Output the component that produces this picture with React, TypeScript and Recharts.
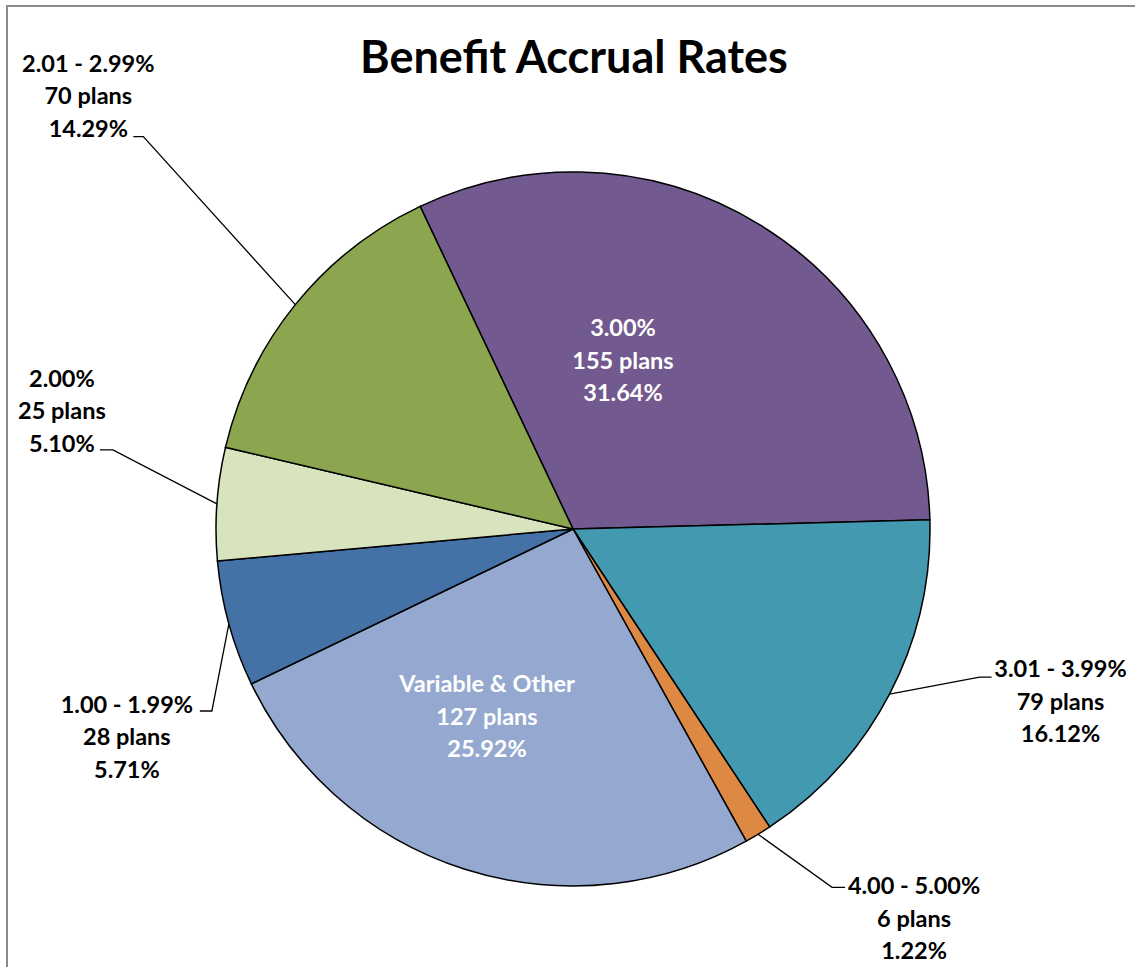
import React from "react";
import { PieChart, Pie, Cell } from "recharts";

const categories = ["3.00%", "3.01 - 3.99%", "4.00 - 5.00%", "Variable & Other", "1.00 - 1.99%", "2.00%", "2.01 - 2.99%"];
const planCounts = [155, 79, 6, 127, 28, 25, 70];
const percentLabels = ["31.64%", "16.12%", "1.22%", "25.92%", "5.71%", "5.10%", "14.29%"];
const sliceColors = ["#72598F", "#4399B0", "#DD8843", "#95A9D0", "#4472A6", "#D8E4BD", "#8BA64F"];

const chartTitle = "Benefit Accrual Rates";

const data = categories.map((name, i) => ({ name, value: planCounts[i] }));

type Layout = { inside: boolean; tx: number; ty: number; ex: number; ey: number; hx: number; color: string };
const labelLayouts: Layout[] = [
  { inside: true, tx: 50, ty: -202, ex: 0, ey: 0, hx: 0, color: "#ffffff" },
  { inside: false, tx: 171, ty: -26, ex: 90, ey: -17, hx: 102, color: "#000000" },
  { inside: false, tx: 156, ty: 51, ex: 74, ey: 53, hx: 87, color: "#000000" },
  { inside: true, tx: -86, ty: 154, ex: 0, ey: 0, hx: 0, color: "#ffffff" },
  { inside: false, tx: -102, ty: 80, ex: -17, ey: 87, hx: -29, color: "#000000" },
  { inside: false, tx: -155, ty: -126, ex: -104, ey: -54, hx: -117, color: "#000000" },
  { inside: false, tx: -207, ty: -242, ex: -152, ey: -168, hx: -162, color: "#000000" },
];

const RAD = Math.PI / 180;
const LINE = 32.5;
const FONT = "Lato, 'Open Sans', sans-serif";

function renderLabel(props: any) {
  const { cx, cy, midAngle, outerRadius, index } = props;
  const L = labelLayouts[index];
  const ax = cx + outerRadius * Math.cos(-midAngle * RAD);
  const ay = cy + outerRadius * Math.sin(-midAngle * RAD);
  const bx = L.inside ? cx : ax;
  const by = L.inside ? cy : ay;
  const lines = [categories[index], `${planCounts[index]} plans`, percentLabels[index]];
  return (
    <g key={`lbl-${index}`}>
      {!L.inside && (
        <polyline
          points={`${ax},${ay} ${ax + L.ex},${ay + L.ey} ${ax + L.hx},${ay + L.ey}`}
          fill="none"
          stroke="#000"
          strokeWidth={1.3}
        />
      )}
      {lines.map((t, i) => (
        <text
          key={i}
          x={bx + L.tx}
          y={by + L.ty + i * LINE}
          textAnchor="middle"
          dominantBaseline="central"
          fontFamily={FONT}
          fontWeight={700}
          fontSize={23.5}
          fill={L.color}
        >
          {t}
        </text>
      ))}
    </g>
  );
}

export default function App() {
  return (
    <div style={{ position: "absolute", left: 0, top: 0, width: 1135, height: 967, overflow: "hidden", background: "#fff" }}>
      <div
        style={{
          position: "absolute",
          left: 6,
          top: 5,
          width: 1200,
          height: 1100,
          borderTop: "2px solid #8a8a8a",
          borderLeft: "2px solid #8a8a8a",
        }}
      />
      <svg width={1135} height={100} style={{ position: "absolute", left: 0, top: 0 }}>
        <text x={574} y={73} textAnchor="middle" fontFamily={FONT} fontWeight={700} fontSize={45} fill="#000">
          {chartTitle}
        </text>
      </svg>
      <div style={{ position: "absolute", left: 0, top: 0 }}>
        <PieChart width={1135} height={967} margin={{ top: 0, right: 0, bottom: 0, left: 0 }}>
          <Pie
            data={data}
            dataKey="value"
            nameKey="name"
            cx={573}
            cy={529}
            outerRadius={357}
            startAngle={115.35}
            endAngle={-244.65}
            stroke="#000"
            strokeWidth={1.5}
            label={renderLabel}
            labelLine={false}
            isAnimationActive={false}
          >
            {data.map((d, i) => (
              <Cell key={d.name} fill={sliceColors[i]} />
            ))}
          </Pie>
        </PieChart>
      </div>
    </div>
  );
}
